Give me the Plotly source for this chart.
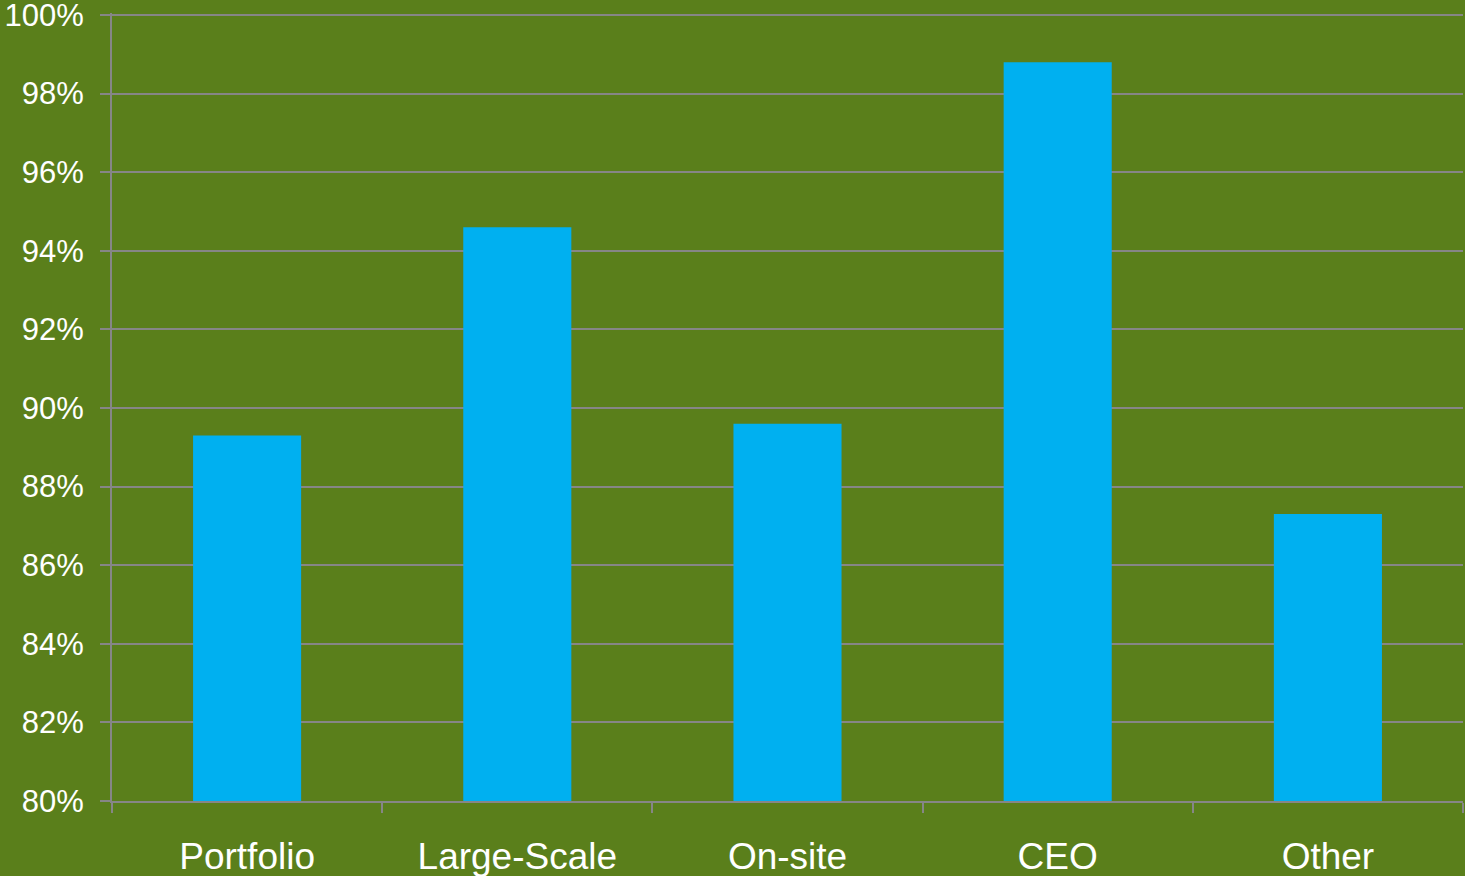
import plotly.graph_objects as go

categories = ["Portfolio", "Large-Scale", "On-site", "CEO", "Other"]
values_pct = [89.3, 94.6, 89.6, 98.8, 87.3]
tick_vals = [80, 82, 84, 86, 88, 90, 92, 94, 96, 98, 100]
tick_text = ["80%", "82%", "84%", "86%", "88%", "90%", "92%", "94%", "96%", "98%", "100%"]

BG = "#5a7f1b"
GRID = "#868686"
BAR = "#00b0f0"

fig = go.Figure(
    go.Bar(
        x=categories,
        y=values_pct,
        marker=dict(color=BAR, line=dict(width=0)),
        hovertemplate="%{x}: %{y}%<extra></extra>",
    )
)

fig.update_layout(
    width=1465,
    height=876,
    margin=dict(l=112, r=2, t=13, b=75),
    paper_bgcolor=BG,
    plot_bgcolor=BG,
    bargap=0.6,
    showlegend=False,
    font=dict(family="Liberation Sans, Arial, sans-serif", color="white"),
)

# range extends a hair past 100 so the top gridline is kept
fig.update_yaxes(
    range=[80, 100.05],
    tickmode="array",
    tickvals=tick_vals,
    ticktext=tick_text,
    tickfont=dict(size=31, color="white"),
    ticklabeloverflow="allow",
    showgrid=True,
    gridcolor=GRID,
    gridwidth=2,
    showline=True,
    linecolor=GRID,
    linewidth=2,
    ticks="outside",
    ticklen=10,
    tickwidth=2,
    tickcolor=GRID,
    ticklabelstandoff=10,
    zeroline=False,
    automargin=False,
)

fig.update_xaxes(
    tickfont=dict(size=37, color="white"),
    showline=True,
    linecolor=GRID,
    linewidth=2,
    ticks="outside",
    tickson="boundaries",
    ticklen=10,
    tickwidth=2,
    tickcolor=GRID,
    ticklabelstandoff=22,
    showgrid=False,
    automargin=False,
)

fig.write_html("out.html")
